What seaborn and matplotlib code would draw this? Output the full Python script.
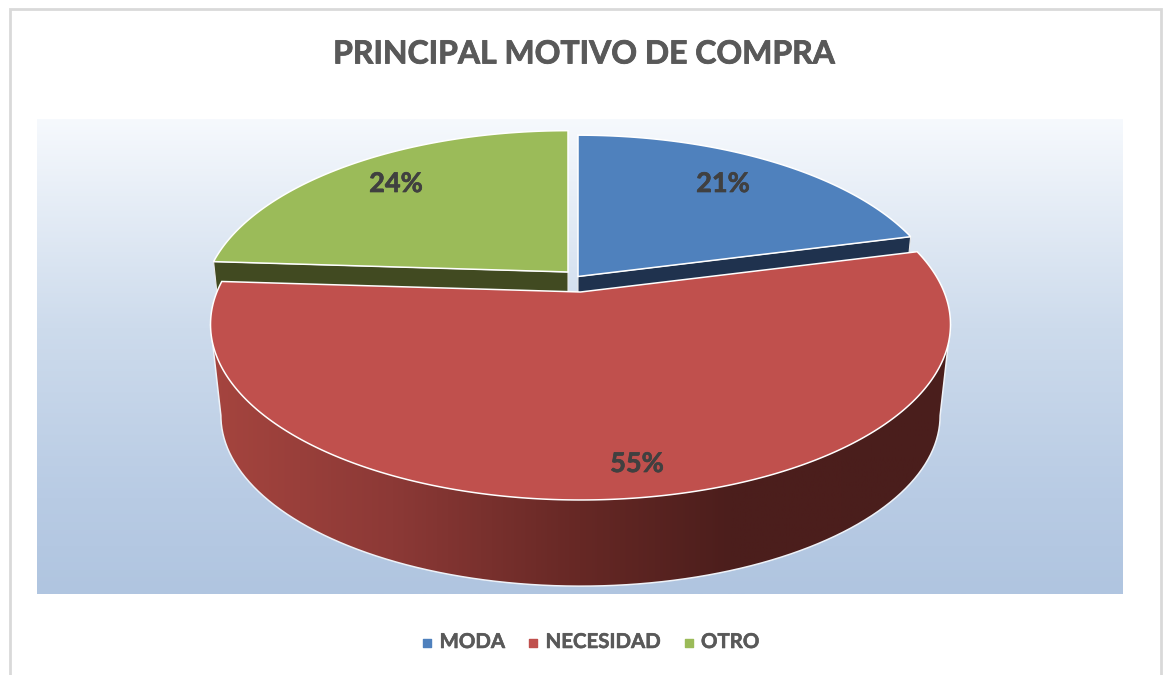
import numpy as np
import matplotlib
matplotlib.use("Agg")
import matplotlib.pyplot as plt
import matplotlib.patheffects as pe
from matplotlib.colors import LinearSegmentedColormap
from matplotlib.patches import Polygon, Rectangle
import seaborn as sns

CATEGORIAS = ["MODA", "NECESIDAD", "OTRO"]
VALORES = [21, 55, 24]
COLORES = ["#4f81bd", "#c0504d", "#9bbb59"]
PAREDES = ["#1f324e", "#4a1e1c", "#414a21"]

# layout in pixels, the axes span the whole image
CENTROS = [(578, 276.5), (580.5, 292), (568, 272)]
RADIOS = [0.988, 1, 0.988]
ETIQUETAS = [(723, 184), (637, 464), (396, 184)]
RX, RY, PERSP = 363.6, 169.5, 0.185
ESCALA_BASE, ALTO = 0.972, 92

sns.set_style("white")
plt.rcParams["font.family"] = ["Lato", "DejaVu Sans"]

fig = plt.figure(figsize=(11.63, 6.75), dpi=100)
ax = fig.add_axes([0, 0, 1, 1])
ax.axis("off")


def proyectar(t, centro, base=False, radio=1):
    # t in degrees clockwise from 12 o'clock
    t = np.radians(t)
    u, v = np.sin(t), -np.cos(t)
    w = 1 - PERSP * v
    esc = (ESCALA_BASE if base else 1) * radio
    dy = ALTO if base else 0
    return centro[0] + esc * RX * u / w, centro[1] + dy + esc * RY * v / w


def tapa(ini, fin, centro, color, radio=1, zorder=3):
    t = np.linspace(ini, fin, 300)
    x, y = proyectar(t, centro, radio=radio)
    pts = np.column_stack([np.r_[centro[0], x], np.r_[centro[1], y]])
    ax.add_patch(Polygon(pts, closed=True, fc=color, ec="white", lw=1.1, joinstyle="miter", zorder=zorder))


def pared_radial(t, centro, color, radio=1):
    xa, ya = proyectar(t, centro, radio=radio)
    xb, yb = proyectar(t, centro, base=True, radio=radio)
    pts = [centro, (xa, ya), (xb, yb), (centro[0], centro[1] + ALTO)]
    ax.add_patch(Polygon(pts, closed=True, fc=color, ec="#e8e8e8", lw=0.8, zorder=2))


# chart frame and plot area gradient
ax.add_patch(Rectangle((9.5, 8.5), 1151, 680, fc="white", ec="#d9d9d9", lw=2, zorder=0))
fondo = LinearSegmentedColormap.from_list(
    "fondo", [(0, "#f6f9fd"), (0.44, "#cddbec"), (0.8, "#b8cbe4"), (1, "#b0c5e0")]
)
ax.imshow(
    np.linspace(0, 1, 256).reshape(-1, 1),
    cmap=fondo,
    extent=[36.5, 1122, 594, 119],
    aspect="auto",
    zorder=1,
)

acum = np.cumsum([0] + VALORES) * 3.6

pared_radial(acum[1], CENTROS[0], PAREDES[0], RADIOS[0])
pared_radial(acum[2], CENTROS[2], PAREDES[2], RADIOS[2])
tapa(acum[0], acum[1], CENTROS[0], COLORES[0], RADIOS[0])
tapa(acum[2], acum[3], CENTROS[2], COLORES[2], RADIOS[2])

# red outer wall, shaded from left to right and clipped to its outline
sombra = LinearSegmentedColormap.from_list(
    "sombra", [(0, "#a6453f"), (0.25, "#8c3936"), (0.5, "#662825"), (0.7, "#4c1e1c"), (1, "#4a1e1c")]
)
cr = CENTROS[1]
t_der = np.degrees(np.arccos(-PERSP))
t_izq = 360 - t_der
t = np.linspace(t_der, t_izq, 300)
xa, ya = proyectar(t, cr)
xb, yb = proyectar(t, cr, base=True)
contorno = Polygon(np.column_stack([np.r_[xa, xb[::-1]], np.r_[ya, yb[::-1]]]), closed=True,
                   transform=ax.transData, fc="none", ec="none")
ax.add_patch(contorno)
pared = ax.imshow(
    np.linspace(0, 1, 256).reshape(1, -1),
    cmap=sombra,
    extent=[205, 955, 620, 300],
    aspect="auto",
    zorder=3.5,
)
pared.set_clip_path(contorno)
ax.plot(np.r_[xa[0], xb, xa[-1]], np.r_[ya[0], yb, ya[-1]], color="#eef2f8", lw=1.1, zorder=3.6)

tapa(acum[1], acum[2], cr, COLORES[1], RADIOS[1], zorder=4)

for v, pos in zip(VALORES, ETIQUETAS):
    ax.text(pos[0], pos[1], f"{v}%", ha="center", va="center", fontsize=19.5, fontweight="bold",
            color="#404040", zorder=5,
            path_effects=[pe.withStroke(linewidth=0.5, foreground="#404040")])

ax.text(585, 54, "PRINCIPAL MOTIVO DE COMPRA", ha="center", va="center",
        fontsize=23, fontweight="bold", color="#595959",
        path_effects=[pe.withStroke(linewidth=0.6, foreground="#595959")])

for cat, col in zip(CATEGORIAS, sns.color_palette(COLORES)):
    ax.scatter([], [], marker="s", s=28, color=col, label=cat)
leyenda = ax.legend(
    loc="center",
    bbox_to_anchor=(589, 642),
    bbox_transform=ax.transData,
    ncol=3,
    frameon=False,
    handlelength=0.8,
    handletextpad=0.2,
    columnspacing=1.0,
    labelcolor="#595959",
    prop={"size": 14.7, "weight": "bold"},
)
for texto in leyenda.get_texts():
    texto.set_path_effects([pe.withStroke(linewidth=0.4, foreground="#595959")])

ax.set_xlim(0, 1163)
ax.set_ylim(675, 0)

fig.savefig("out.png", dpi=100)
